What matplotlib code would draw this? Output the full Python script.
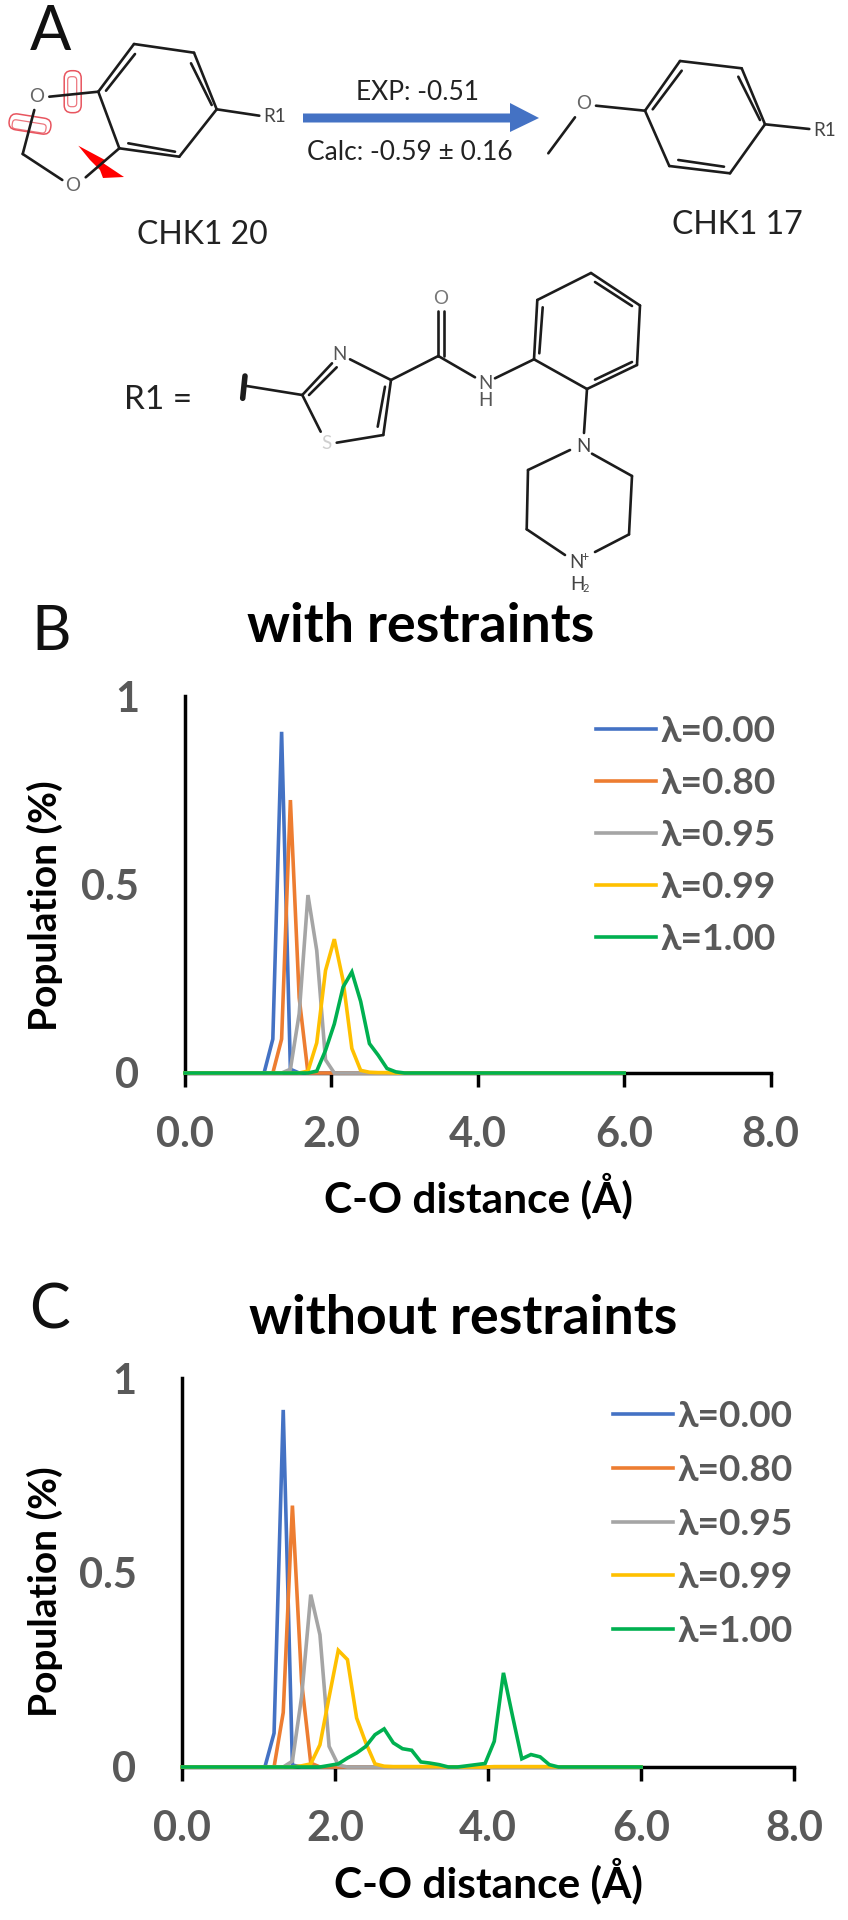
import matplotlib
matplotlib.use("Agg")
import matplotlib.pyplot as plt
from matplotlib import patches, transforms

plt.rcParams['font.family'] = ['Lato', 'DejaVu Sans']

W, H = 848, 1920

# distance bins (A)
dist = [0.00, 0.12, 0.24, 0.36, 0.48, 0.60, 0.72, 0.84, 0.96, 1.08,
        1.20, 1.32, 1.44, 1.56, 1.68, 1.80, 1.92, 2.04, 2.16, 2.28,
        2.40, 2.52, 2.64, 2.76, 2.88, 3.00, 3.12, 3.24, 3.36, 3.48,
        3.60, 3.72, 3.84, 3.96, 4.08, 4.20, 4.32, 4.44, 4.56, 4.68,
        4.80, 4.92, 5.04, 5.16, 5.28, 5.40, 5.52, 5.64, 5.76, 5.88, 6.00]

labels = ['λ=0.00', 'λ=0.80', 'λ=0.95', 'λ=0.99', 'λ=1.00']
colors = ['#4472C4', '#ED7D31', '#A5A5A5', '#FFC000', '#00B050']

# panel B, with restraints
b_000 = [0, 0, 0, 0, 0, 0, 0, 0, 0, 0,
         .09, .905, .01, 0, 0, 0, 0, 0, 0, 0,
         0, 0, 0, 0, 0, 0, 0, 0, 0, 0,
         0, 0, 0, 0, 0, 0, 0, 0, 0, 0,
         0, 0, 0, 0, 0, 0, 0, 0, 0, 0, 0]
b_080 = [0, 0, 0, 0, 0, 0, 0, 0, 0, 0,
         0, .09, .724, .20, 0, 0, 0, 0, 0, 0,
         0, 0, 0, 0, 0, 0, 0, 0, 0, 0,
         0, 0, 0, 0, 0, 0, 0, 0, 0, 0,
         0, 0, 0, 0, 0, 0, 0, 0, 0, 0, 0]
b_095 = [0, 0, 0, 0, 0, 0, 0, 0, 0, 0,
         0, 0, .01, .157, .472, .325, .035, 0, 0, 0,
         0, 0, 0, 0, 0, 0, 0, 0, 0, 0,
         0, 0, 0, 0, 0, 0, 0, 0, 0, 0,
         0, 0, 0, 0, 0, 0, 0, 0, 0, 0, 0]
b_099 = [0, 0, 0, 0, 0, 0, 0, 0, 0, 0,
         0, 0, 0, 0, .005, .08, .272, .355, .245, .065,
         .007, .002, .001, .001, 0, 0, 0, 0, 0, 0,
         0, 0, 0, 0, 0, 0, 0, 0, 0, 0,
         0, 0, 0, 0, 0, 0, 0, 0, 0, 0, 0]
b_100 = [0, 0, 0, 0, 0, 0, 0, 0, 0, 0,
         0, 0, 0, 0, 0, .005, .06, .13, .228, .268,
         .19, .078, .047, .012, .003, 0, 0, 0, 0, 0,
         0, 0, 0, 0, 0, 0, 0, 0, 0, 0,
         0, 0, 0, 0, 0, 0, 0, 0, 0, 0, 0]

# panel C, without restraints
c_000 = [0, 0, 0, 0, 0, 0, 0, 0, 0, 0,
         .087, .918, .005, 0, 0, 0, 0, 0, 0, 0,
         0, 0, 0, 0, 0, 0, 0, 0, 0, 0,
         0, 0, 0, 0, 0, 0, 0, 0, 0, 0,
         0, 0, 0, 0, 0, 0, 0, 0, 0, 0, 0]
c_080 = [0, 0, 0, 0, 0, 0, 0, 0, 0, 0,
         0, .14, .672, .22, .01, 0, 0, 0, 0, 0,
         0, 0, 0, 0, 0, 0, 0, 0, 0, 0,
         0, 0, 0, 0, 0, 0, 0, 0, 0, 0,
         0, 0, 0, 0, 0, 0, 0, 0, 0, 0, 0]
c_095 = [0, 0, 0, 0, 0, 0, 0, 0, 0, 0,
         0, 0, .015, .18, .443, .34, .053, .005, 0, 0,
         0, 0, 0, 0, 0, 0, 0, 0, 0, 0,
         0, 0, 0, 0, 0, 0, 0, 0, 0, 0,
         0, 0, 0, 0, 0, 0, 0, 0, 0, 0, 0]
c_099 = [0, 0, 0, 0, 0, 0, 0, 0, 0, 0,
         0, 0, 0, .003, .008, .057, .18, .30, .276, .126,
         .062, .008, .002, .001, .001, .001, .001, .001, .001, 0,
         0, 0, 0, 0, .001, .001, .001, .001, .001, .001,
         .001, 0, 0, 0, 0, 0, 0, 0, 0, 0, 0]
c_100 = [0, 0, 0, 0, 0, 0, 0, 0, 0, 0,
         0, 0, 0, 0, 0, 0, .004, .008, .023, .036,
         .053, .083, .098, .062, .047, .043, .013, .01, .006, 0,
         0, .003, .006, .009, .066, .242, .13, .021, .032, .026,
         .006, 0, 0, 0, 0, 0, 0, 0, 0, 0, 0]

panel_b = [b_000, b_080, b_095, b_099, b_100]
panel_c = [c_000, c_080, c_095, c_099, c_100]

x_ticks = [0, 2, 4, 6, 8]
x_tick_labels = ['0.0', '2.0', '4.0', '6.0', '8.0']
y_ticks = [0, 0.5, 1]
y_tick_labels = ['0', '0.5', '1']

fig = plt.figure(figsize=(W / 100, H / 100), dpi=100, facecolor='white')

# overlay in image pixels for the scheme at the top and the panel text
bg = fig.add_axes([0, 0, 1, 1])
bg.set_xlim(0, W)
bg.set_ylim(H, 0)
bg.axis('off')

BOND = '#1c1c1c'
bonds = [
    # CHK1 20
    ((134, 44), (194, 52.7)), ((194, 52.7), (216.7, 109.3)), ((216.7, 109.3), (179.3, 156.7)),
    ((179.3, 156.7), (119.3, 148.3)), ((119.3, 148.3), (98.3, 91.7)), ((98.3, 91.7), (134, 44)),
    ((106, 90.7), (135, 54)), ((191, 63.3), (211.7, 105)), ((128.3, 143.3), (175, 151.7)),
    ((216.7, 109.3), (259.3, 115.7)), ((49.3, 96.7), (98.3, 91.7)), ((34.3, 110), (22.7, 154)),
    ((22.7, 154), (62.3, 180)), ((85.7, 177.3), (119.3, 148.3)),
    # CHK1 17
    ((680, 61), (741.7, 68.3)), ((741.7, 68.3), (765, 124.3)), ((765, 124.3), (730, 173.3)),
    ((730, 173.3), (669.3, 166)), ((669.3, 166), (645, 110.7)), ((645, 110.7), (680, 61)),
    ((652.7, 109.3), (681.7, 70.7)), ((738.3, 76.7), (760, 120)), ((678.3, 160), (724, 166.7)),
    ((765, 124.3), (809.3, 129)), ((596, 105.7), (645, 110.7)), ((575, 117.3), (548.3, 153.3)),
    # R1 thiazole and amide
    ((246.7, 386), (302.3, 395)), ((302.3, 395), (332, 363.3)), ((309, 395), (336.7, 367.3)),
    ((350, 359.3), (391, 380)), ((391, 380), (383.3, 435)), ((385, 386.7), (377.7, 426.7)),
    ((383.3, 435), (336.7, 442.7)), ((320.7, 431.7), (302.3, 395)), ((391, 380), (438.3, 356)),
    ((438.3, 356), (438.3, 310.7)), ((444.3, 356), (444.3, 310.7)), ((438.3, 356), (475, 377.3)),
    ((495, 378.3), (534, 359.3)),
    # R1 phenyl
    ((534, 359.3), (537.3, 300)), ((537.3, 300), (591, 273)), ((591, 273), (640, 305.5)),
    ((640, 305.5), (637, 365)), ((637, 365), (587, 389)), ((587, 389), (534, 359.3)),
    ((542.7, 307.3), (539.3, 353.3)), ((595, 282), (632, 306)), ((595, 379.6), (632, 362)),
    ((587, 389), (584, 433)),
    # R1 piperazine
    ((570, 450), (528, 470)), ((528, 470), (526.7, 529.3)), ((526.7, 529.3), (565, 555)),
    ((592, 453.7), (632, 476)), ((632, 476), (629, 534.4)), ((629, 534.4), (595, 552)),
]
for (x0, y0), (x1, y1) in bonds:
    bg.plot([x0, x1], [y0, y1], color=BOND, lw=1.9, solid_capstyle='round')
bg.plot([245, 242.7], [376, 398.3], color=BOND, lw=4, solid_capstyle='round')

# atoms
atoms = [('O', 36.7, 96.7, '#666666'), ('O', 72.7, 185.7, '#666666'), ('R1', 275, 117, '#444444'),
         ('O', 583.3, 103.3, '#666666'), ('R1', 824.3, 131, '#444444'), ('N', 339.3, 355, '#555555'),
         ('S', 326, 443.3, '#cfcfcf'), ('O', 440.7, 298.3, '#777777'), ('N', 485, 383.3, '#555555'),
         ('H', 485, 400.7, '#555555'), ('N', 583, 446, '#444444'), ('N', 576, 563, '#444444'),
         ('H', 577, 584, '#444444')]
for s, x, y, c in atoms:
    bg.text(x, y, s, ha='center', va='center', fontsize=13.5, color=c)
bg.text(585, 557, '+', ha='center', va='center', fontsize=9, color='#444444')
bg.text(586, 589, '2', ha='center', va='center', fontsize=8, color='#444444')

# paper clips and the lightning bolt on the broken bonds
CLIP = '#e8555f'
for cx, cy, w, h, rot in [(72.7, 91.7, 17, 42, 0), (30, 124, 42, 16, 9)]:
    tr = transforms.Affine2D().rotate_deg_around(cx, cy, rot) + bg.transData
    bg.add_patch(patches.FancyBboxPatch((cx - w / 2, cy - h / 2), w, h, boxstyle='round,pad=0,rounding_size=7.5',
                                        fill=False, ec=CLIP, lw=1.1, transform=tr))
    bg.add_patch(patches.FancyBboxPatch((cx - w / 2 + 3.5, cy - h / 2 + 6), w - 8, h - 12 if h > w else h - 7,
                                        boxstyle='round,pad=0,rounding_size=3.5',
                                        fill=False, ec=CLIP, lw=0.9, alpha=0.8, transform=tr))
bg.add_patch(patches.Polygon([(78.3, 145.7), (105, 160), (103, 163), (124, 177), (103, 178), (100, 170), (90, 160)],
                             closed=True, fc='#ff0000', ec='none'))

# reaction arrow
bg.add_patch(patches.Polygon([(303, 113.5), (510, 113.5), (510, 103), (539, 118), (510, 132), (510, 122.5), (303, 122.5)],
                             closed=True, fc='#4472C4', ec='none'))

# scheme text
bg.text(51, 33, 'A', ha='center', va='center', fontsize=44, color='#111111')
bg.text(51, 632, 'B', ha='center', va='center', fontsize=44, color='#111111')
bg.text(50, 1311, 'C', ha='center', va='center', fontsize=44, color='#111111')
bg.text(202, 235, 'CHK1 20', ha='center', va='center', fontsize=23, color='#222222')
bg.text(737, 225, 'CHK1 17', ha='center', va='center', fontsize=23, color='#222222')
bg.text(418, 93, 'EXP: -0.51', ha='center', va='center', fontsize=19, color='#222222')
bg.text(410, 153, 'Calc: -0.59 ± 0.16', ha='center', va='center', fontsize=19, color='#222222')
bg.text(158, 400, 'R1 =', ha='center', va='center', fontsize=24, color='#222222')


def draw_panel(series, left, right, top, bottom, title, title_x, title_y, leg_x, leg_y, leg_space, xlabel_x, xlabel_y, ylabel_y):
    ax = fig.add_axes([left / W, 1 - bottom / H, (right - left) / W, (bottom - top) / H])
    ax.patch.set_alpha(0)
    for y, lab, c in zip(series, labels, colors):
        ax.plot(dist, y, color=c, lw=2.6, label=lab, clip_on=False, solid_joinstyle='miter', zorder=3)
    ax.set_xlim(0, 8)
    ax.set_ylim(0, 1)
    for side in ['top', 'right']:
        ax.spines[side].set_visible(False)
    for side in ['left', 'bottom']:
        ax.spines[side].set_linewidth(2.5)
        ax.spines[side].set_color('black')
    ax.set_xticks(x_ticks)
    ax.set_xticklabels(x_tick_labels)
    ax.set_yticks(y_ticks)
    ax.set_yticklabels(y_tick_labels)
    ax.tick_params(axis='x', length=10, width=2.5, pad=21, labelsize=30, labelcolor='#595959')
    ax.tick_params(axis='y', length=0, pad=33, labelsize=30, labelcolor='#595959')
    for t in ax.get_xticklabels() + ax.get_yticklabels():
        t.set_fontweight('bold')
    ax.legend(loc='upper left', bbox_to_anchor=(leg_x / W, 1 - leg_y / H), bbox_transform=fig.transFigure,
              frameon=False, prop={'size': 26.7, 'weight': 'bold'}, labelcolor='#595959',
              handlelength=1.62, handletextpad=0.11, labelspacing=leg_space, borderaxespad=0, borderpad=0)
    bg.text(title_x, title_y, title, ha='center', va='center', fontsize=38.6, fontweight='bold', color='black')
    bg.text(xlabel_x, xlabel_y, 'C-O distance (Å)', ha='center', va='center', fontsize=30.5, fontweight='bold', color='black')
    bg.text(45, ylabel_y, 'Population (%)', ha='center', va='center', rotation=90, fontsize=28, fontweight='bold', color='black')
    return ax


draw_panel(panel_b, 185, 770.5, 696, 1073, 'with restraints', 421, 627, 596, 715, 0.51, 478, 1196, 906)
draw_panel(panel_c, 182.3, 794, 1378, 1767, 'without restraints', 463, 1318, 613, 1400, 0.56, 488, 1881, 1592)

fig.savefig('out.png', dpi=100)
